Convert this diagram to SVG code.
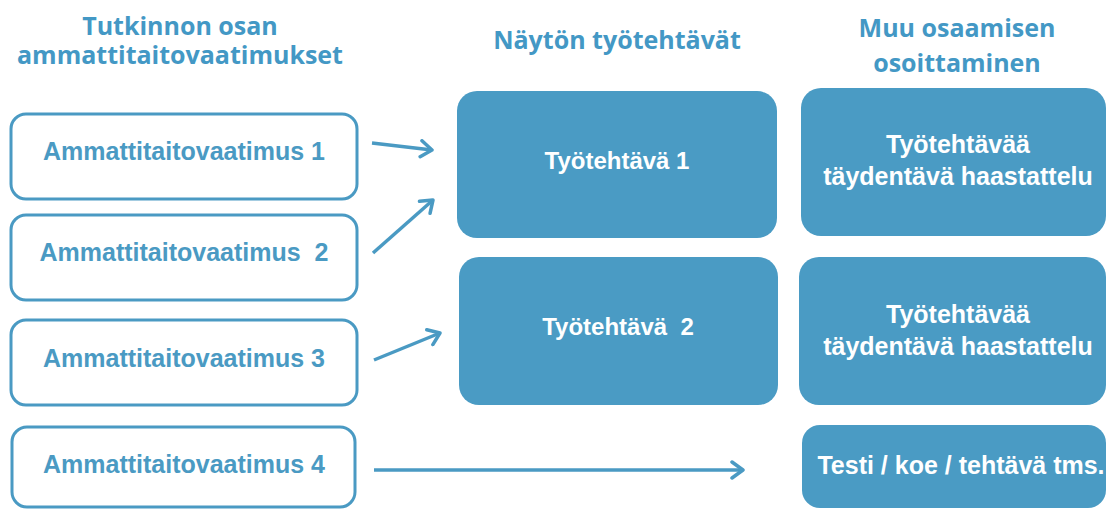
<svg xmlns="http://www.w3.org/2000/svg" width="1108" height="509" viewBox="0 0 1108 509">
  <style>
    .hdr { font-family: "Open Sans", "Liberation Sans", sans-serif; font-weight: 700; font-size: 25px; fill: #4398C5; text-anchor: middle; }
    .req { fill: #FFFFFF; stroke: #4A9AC3; stroke-width: 3; }
    .reqt { font-family: "Liberation Sans", Arial, sans-serif; font-weight: 700; font-size: 25px; fill: #4A9AC3; text-anchor: middle; white-space: pre; }
    .task { fill: #4A9BC4; }
    .taskt { font-family: "Liberation Sans", Arial, sans-serif; font-weight: 700; font-size: 24px; fill: #FFFFFF; text-anchor: middle; white-space: pre; }
    .oth { font-family: "Liberation Sans", Arial, sans-serif; font-weight: 700; font-size: 25px; fill: #FFFFFF; text-anchor: middle; }
    .conn { stroke: #4A9AC3; stroke-width: 3.5; fill: none; marker-end: url(#arr); }
  </style>
  <defs>
    <marker id="arr" markerUnits="userSpaceOnUse" viewBox="0 0 16 20" markerWidth="16" markerHeight="20" refX="13" refY="10" orient="auto">
      <path d="M2,2 L13,10 L2,18" fill="none" stroke="#4A9AC3" stroke-width="3.5" stroke-linecap="round" stroke-linejoin="round"/>
    </marker>
  </defs>
  <rect width="1108" height="509" fill="#FFFFFF"/>

  <g id="headers">
    <text class="hdr" x="180" y="35">Tutkinnon osan</text>
    <text class="hdr" x="180" y="64">ammattitaitovaatimukset</text>
    <text class="hdr" x="617" y="49">Näytön työtehtävät</text>
    <text class="hdr" x="957" y="37">Muu osaamisen</text>
    <text class="hdr" x="957" y="72">osoittaminen</text>
  </g>

  <g id="req1">
    <rect class="req" x="11" y="114" width="346" height="85" rx="15"/>
    <text class="reqt" x="184" y="160">Ammattitaitovaatimus 1</text>
  </g>
  <g id="req2">
    <rect class="req" x="11" y="215" width="346" height="85" rx="15"/>
    <text class="reqt" x="184" y="261" xml:space="preserve">Ammattitaitovaatimus  2</text>
  </g>
  <g id="req3">
    <rect class="req" x="11" y="320" width="346" height="85" rx="15"/>
    <text class="reqt" x="184" y="367">Ammattitaitovaatimus 3</text>
  </g>
  <g id="req4">
    <rect class="req" x="12" y="427" width="343" height="80" rx="15"/>
    <text class="reqt" x="184" y="473">Ammattitaitovaatimus 4</text>
  </g>

  <g id="task1">
    <rect class="task" x="457" y="91" width="320" height="147" rx="20"/>
    <text class="taskt" x="617" y="169">Työtehtävä 1</text>
  </g>
  <g id="task2">
    <rect class="task" x="459" y="257" width="319" height="148" rx="20"/>
    <text class="taskt" x="618" y="335" xml:space="preserve">Työtehtävä  2</text>
  </g>

  <g id="other1">
    <rect class="task" x="801" y="88" width="305" height="148" rx="20"/>
    <text class="oth" x="958" y="153">Työtehtävää</text>
    <text class="oth" x="958" y="185">täydentävä haastattelu</text>
  </g>
  <g id="other2">
    <rect class="task" x="799" y="257" width="307" height="148" rx="20"/>
    <text class="oth" x="958" y="323">Työtehtävää</text>
    <text class="oth" x="958" y="355">täydentävä haastattelu</text>
  </g>
  <g id="other3">
    <rect class="task" x="802" y="425" width="304" height="83" rx="18"/>
    <text class="oth" x="961" y="474">Testi / koe / tehtävä tms.</text>
  </g>

  <g id="connectors">
    <line class="conn" x1="372" y1="143" x2="432" y2="150"/>
    <line class="conn" x1="373" y1="253" x2="433" y2="200"/>
    <line class="conn" x1="374" y1="360" x2="440" y2="333"/>
    <line class="conn" x1="374" y1="470" x2="743" y2="470"/>
  </g>
</svg>
